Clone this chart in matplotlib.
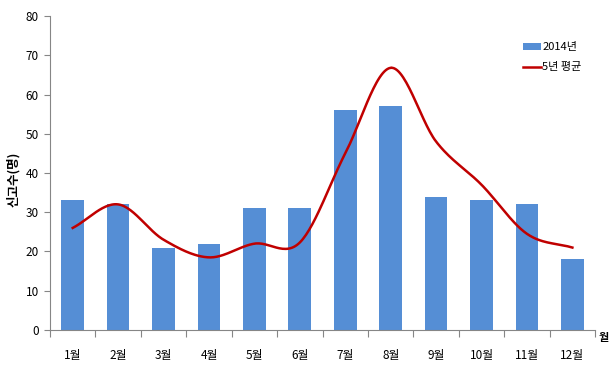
import numpy as np
import matplotlib.pyplot as plt

plt.rcParams['font.family'] = ['Noto Sans CJK KR', 'DejaVu Sans']

# 데이터
months = ['1월', '2월', '3월', '4월', '5월', '6월', '7월', '8월', '9월', '10월', '11월', '12월']
y2014 = [33, 32, 21, 22, 31, 31, 56, 57, 34, 33, 32, 18]
avg5 = [26, 32, 23, 18.5, 22, 22.3, 45, 66.8, 48, 37, 24.5, 21]


def smooth(xs, ys, n=30):
    # Catmull-Rom 곡선 (엑셀 부드러운 선 비슷하게)
    xs = np.asarray(xs, float)
    ys = np.asarray(ys, float)
    px = np.concatenate([[2 * xs[0] - xs[1]], xs, [2 * xs[-1] - xs[-2]]])
    py = np.concatenate([[2 * ys[0] - ys[1]], ys, [2 * ys[-1] - ys[-2]]])
    out_x, out_y = [], []
    for i in range(1, len(px) - 2):
        t = np.linspace(0, 1, n)
        for p, out in ((px, out_x), (py, out_y)):
            p0, p1, p2, p3 = p[i - 1], p[i], p[i + 1], p[i + 2]
            out.extend(0.5 * (2 * p1 + (-p0 + p2) * t
                              + (2 * p0 - 5 * p1 + 4 * p2 - p3) * t ** 2
                              + (-p0 + 3 * p1 - 3 * p2 + p3) * t ** 3))
    return out_x, out_y


fig = plt.figure(figsize=(6.11, 3.68), dpi=100)
ax = fig.add_axes([0.0818, 0.1033, 0.8922, 0.8532])

x = np.arange(len(months))
bars = ax.bar(x, y2014, width=0.5, color='#558ED5', label='2014년', zorder=2)
sx, sy = smooth(x, avg5)
line, = ax.plot(sx, sy, color='#C00000', lw=1.8, label='5년 평균', zorder=3)

ax.set_xlim(-0.5, len(months) - 0.5)
ax.set_ylim(0, 80)
ax.set_yticks(range(0, 81, 10))
ax.set_xticks(np.arange(-0.5, len(months), 1))
ax.set_xticklabels([])
ax.set_xticks(x, minor=True)
ax.set_xticklabels(months, minor=True, fontsize=8.5)
ax.tick_params(axis='x', which='major', length=5, color='#868686')
ax.tick_params(axis='x', which='minor', length=0, pad=14)
ax.tick_params(axis='y', length=4, color='#868686', labelsize=8.5, pad=4)

for s in ['top', 'right']:
    ax.spines[s].set_visible(False)
for s in ['left', 'bottom']:
    ax.spines[s].set_color('#868686')

ax.set_ylabel('신고수(명)', fontsize=9, fontweight='bold')
ax.yaxis.set_label_coords(-0.054, 0.48)
fig.text(0.988, 0.082, '월', fontsize=8, fontweight='bold', ha='center', va='center')

ax.legend(handles=[bars, line], loc='upper left', bbox_to_anchor=(0.86, 0.93),
          frameon=False, fontsize=8, handlelength=1.6, handletextpad=0.1,
          labelspacing=0.9, borderaxespad=0)

fig.savefig('out.png', dpi=100)
